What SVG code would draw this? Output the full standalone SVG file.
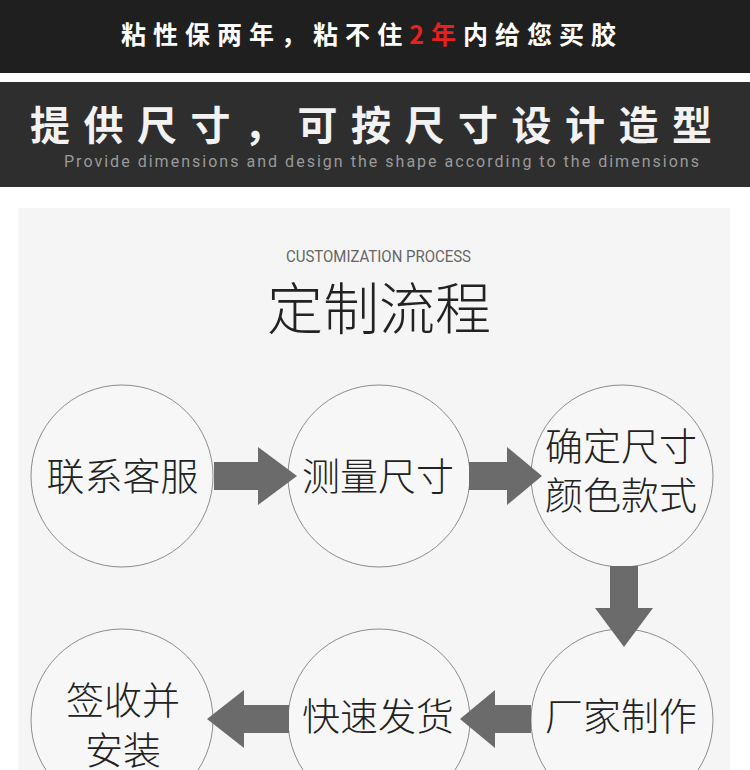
<svg xmlns="http://www.w3.org/2000/svg" width="750" height="770" viewBox="0 0 750 770">
  <style>
    .cjk { font-family: "Noto Sans CJK SC", "Noto Sans", sans-serif; }
    .node circle { fill: #f7f7f7; stroke: #8c8c8c; stroke-width: 1; }
    .node text { font-family: "Noto Sans CJK SC", "Noto Sans", sans-serif; font-size: 38px; font-weight: 300; fill: #222222; text-anchor: middle; }
    .arrow { fill: #6b6b6b; }
  </style>
  <rect x="0" y="0" width="750" height="770" fill="#ffffff"/>
  <!-- top banner -->
  <rect x="0" y="0" width="750" height="73" fill="#1f1f1f"/>
  <text class="cjk" x="121" y="43.5" font-size="25" font-weight="bold" fill="#ffffff" textLength="495" lengthAdjust="spacing">粘性保两年，粘不住<tspan fill="#e8211f">2年</tspan>内给您买胶</text>
  <!-- second banner -->
  <rect x="0" y="82" width="750" height="105" fill="#2e2e2e"/>
  <text class="cjk" x="30" y="140" font-size="40" font-weight="bold" fill="#f2f2f2" textLength="682" lengthAdjust="spacing">提供尺寸，可按尺寸设计造型</text>
  <text x="64" y="167" font-family="Roboto, 'Liberation Sans', sans-serif" font-size="16" fill="#9a9a9a" textLength="635" lengthAdjust="spacing">Provide dimensions and design the shape according to the dimensions</text>
  <!-- panel -->
  <rect x="18" y="208" width="712" height="562" fill="#f5f5f5"/>
  <text x="378.5" y="262" font-family="Roboto, 'Liberation Sans', sans-serif" font-size="16" fill="#666666" text-anchor="middle" textLength="185" lengthAdjust="spacingAndGlyphs">CUSTOMIZATION PROCESS</text>
  <text class="cjk" x="379" y="329" font-size="56" font-weight="300" fill="#222222" text-anchor="middle">定制流程</text>

  <g id="node-contact" class="node">
    <circle cx="122" cy="476" r="91"/>
    <text x="122.5" y="490">联系客服</text>
  </g>
  <g id="node-measure" class="node">
    <circle cx="379" cy="476" r="91"/>
    <text x="378" y="490">测量尺寸</text>
  </g>
  <g id="node-confirm" class="node">
    <circle cx="622" cy="476" r="91"/>
    <text x="621" y="460">确定尺寸</text>
    <text x="621" y="509">颜色款式</text>
  </g>
  <g id="node-factory" class="node">
    <circle cx="622" cy="720" r="91"/>
    <text x="621" y="730">厂家制作</text>
  </g>
  <g id="node-ship" class="node">
    <circle cx="379" cy="720" r="91"/>
    <text x="378" y="730">快速发货</text>
  </g>
  <g id="node-install" class="node">
    <circle cx="122" cy="720" r="91"/>
    <text x="123" y="714">签收并</text>
    <text x="123" y="764">安装</text>
  </g>

  <g id="connectors">
    <polygon class="arrow" points="214,462 258,462 258,447 297,476 258,505 258,490 214,490"/>
    <polygon class="arrow" points="469,462 507,462 507,447 542,476 507,505 507,490 469,490"/>
    <polygon class="arrow" points="610,566 638,566 638,608 653,608 624,647 595,608 610,608"/>
    <polygon class="arrow" points="531,705 495,705 495,690 460,719 495,748 495,733 531,733"/>
    <polygon class="arrow" points="289,705 244,705 244,690 207,719 244,748 244,733 289,733"/>
  </g>
</svg>
